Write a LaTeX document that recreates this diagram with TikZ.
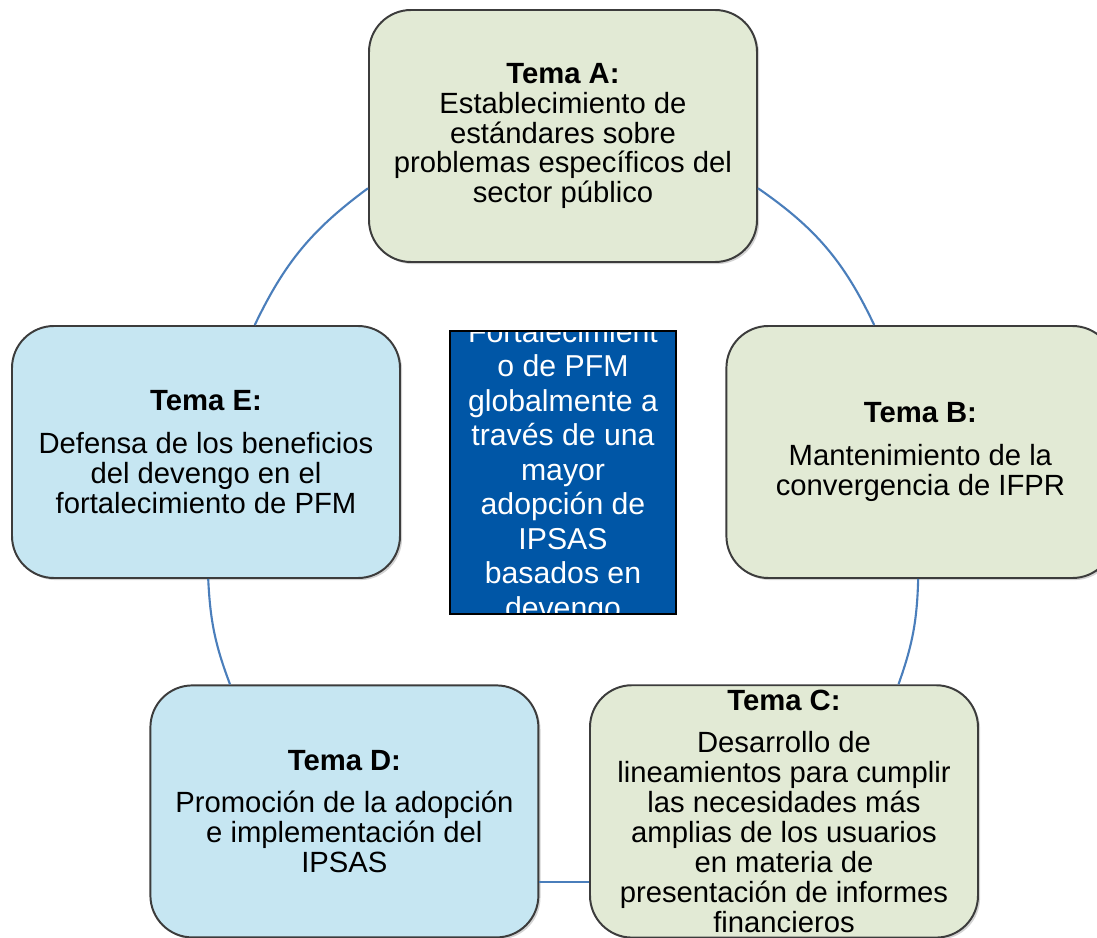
\documentclass[tikz,border=0pt]{standalone}
\usepackage{fontspec}
\setmainfont{Liberation Sans}
\usetikzlibrary{shadows}
\definecolor{temagreen}{RGB}{226,234,213}
\definecolor{temablue}{RGB}{198,230,242}
\definecolor{linkblue}{RGB}{74,126,187}
\definecolor{coreblue}{RGB}{0,86,166}
\definecolor{rimgray}{RGB}{60,60,60}

\begin{document}
\begin{tikzpicture}[
    tema/.style={rectangle, rounded corners=1.05cm, draw=rimgray, line width=1.4pt,
      minimum width=9.7cm, minimum height=6.3cm, align=center, text=black,
      font=\fontsize{20.8}{21.3}\selectfont,
      drop shadow={opacity=0.35, shadow xshift=1.5pt, shadow yshift=-1.5pt}},
    greenbox/.style={tema, fill=temagreen},
    bluebox/.style={tema, fill=temablue},
    link/.style={draw=linkblue, line width=1.5pt},
  ]
  \useasboundingbox (0,0) rectangle (27.425,23.425);

  % the five themes
  \node[greenbox] (A) at (14.075,20.025) {\textbf{Tema A:}\\ Establecimiento de\\ estándares sobre\\ problemas específicos del\\ sector público};
  \node[greenbox] (B) at (23.01,12.125) {\textbf{Tema B:}\\[9pt] Mantenimiento de la\\ convergencia de IFPR};
  \node[greenbox] (C) at (19.6,3.14) {\textbf{Tema C:}\\[9pt] Desarrollo de\\ lineamientos para cumplir\\ las necesidades más\\ amplias de los usuarios\\ en materia de\\ presentación de informes\\ financieros};
  \node[bluebox] (D) at (8.61,3.14) {\textbf{Tema D:}\\[9pt] Promoción de la adopción\\ e implementación del\\ IPSAS};
  \node[bluebox] (E) at (5.15,12.125) {\textbf{Tema E:}\\[9pt] Defensa de los beneficios\\ del devengo en el\\ fortalecimiento de PFM};

  % centre, text cut by the box
  \node[draw=black, line width=1pt, fill=coreblue, minimum width=5.65cm, minimum height=7.075cm,
    path picture={\node[text=white, align=center, font=\fontsize{21.5}{24.5}\selectfont]
      at (path picture bounding box.center) {Fortalecimient\\ o de PFM\\ globalmente a\\ través de una\\ mayor\\ adopción de\\ IPSAS\\ basados en\\ devengo};}]
    (core) at (14.075,11.6125) {};

  % cycle
  \draw[link] (E.69) to[bend left=14] (A.195.6);
  \draw[link] (A.-15.6) to[bend left=15] (B.110);
  \draw[link] (B.-91) to[bend left=9] (C.48.6);
  \draw[link] (C.200) -- (D.-20);
  \draw[link] (D.132) to[bend left=9] (E.-89);
\end{tikzpicture}
\end{document}
